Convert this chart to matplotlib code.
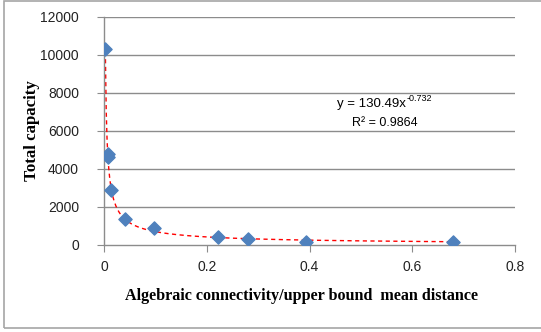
import numpy as np
import matplotlib
matplotlib.use("Agg")
import matplotlib.pyplot as plt
from matplotlib.patches import Rectangle
from matplotlib.transforms import offset_copy

# values
x_vals = [0.0026, 0.0072, 0.0078, 0.0145, 0.040, 0.098, 0.222, 0.280, 0.393, 0.680]
y_vals = [10300, 4800, 4620, 2880, 1370, 880, 440, 330, 160, 170]
fit_a = 130.49
fit_b = -0.732
r2 = 0.9864
x_ticks = [0, 0.2, 0.4, 0.6, 0.8]
x_tick_labels = ["0", "0.2", "0.4", "0.6", "0.8"]
y_ticks = [0, 2000, 4000, 6000, 8000, 10000, 12000]

fig = plt.figure(figsize=(5.41, 3.32), dpi=100)
ax = fig.add_axes([104 / 541, 87 / 332, 411 / 541, 228 / 332])

# chart frame
fig.patches.append(Rectangle((3.5 / 541, 4 / 332), 1.0, 327 / 332, transform=fig.transFigure,
                             fill=False, edgecolor="#a6a6a6", lw=1.2))

for yt in y_ticks[1:]:
    ax.axhline(yt, color="#8c8c8c", lw=1.0, zorder=0)

# trendline (power fit as shown)
xs = np.linspace(min(x_vals), max(x_vals), 400)
ax.plot(xs, fit_a * xs ** fit_b, color="red", ls=(0, (3, 2.5)), lw=1.0, zorder=2)

ax.scatter(x_vals, y_vals, marker="D", s=45, color="#4f81bd", edgecolor="#4f81bd", zorder=3)

ax.set_xlim(0, 0.8)
ax.set_ylim(0, 12000)
ax.set_xticks(x_ticks)
ax.set_xticklabels(x_tick_labels)
ax.set_yticks(y_ticks)

for s in ["top", "right"]:
    ax.spines[s].set_visible(False)
for s in ["left", "bottom"]:
    ax.spines[s].set_color("#8c8c8c")
    ax.spines[s].set_linewidth(1.0)

ax.tick_params(axis="x", direction="out", length=5, color="#8c8c8c", pad=6,
               labelsize=10, labelcolor="#222222")
ax.tick_params(axis="y", direction="out", length=5, color="#8c8c8c", pad=13,
               labelsize=10, labelcolor="#222222")
for lab in ax.get_xticklabels() + ax.get_yticklabels():
    lab.set_fontfamily("Liberation Sans")

ax.set_xlabel("Algebraic connectivity/upper bound  mean distance", family="Liberation Serif",
              fontweight="bold", fontsize=11.6)
ax.set_ylabel("Total capacity", family="Liberation Serif", fontweight="bold", fontsize=12.2)
ax.xaxis.set_label_coords(0.48, -0.224)
ax.yaxis.set_label_coords(-0.175, 0.5)
ax.xaxis.label.set_va("center")
ax.yaxis.label.set_va("center")

# trendline equation, superscript drawn as a separate small text
base = ax.text(0.52, 7420, "y = 130.49x", family="Liberation Sans", fontsize=9.5,
               ha="center", va="center")
fig.canvas.draw()
bb = base.get_window_extent()
x_end = ax.transData.inverted().transform((bb.x1, bb.y1))[0]
ax.text(x_end, 7420, "-0.732", family="Liberation Sans", fontsize=6.5, ha="left", va="bottom",
        transform=offset_copy(ax.transData, fig=fig, x=0.5, y=0.5, units="points"))
ax.text(0.547, 6420, "R\u00b2 = %.4f" % r2, family="Liberation Sans", fontsize=9,
        ha="center", va="center")

fig.savefig("out.png", dpi=100)
